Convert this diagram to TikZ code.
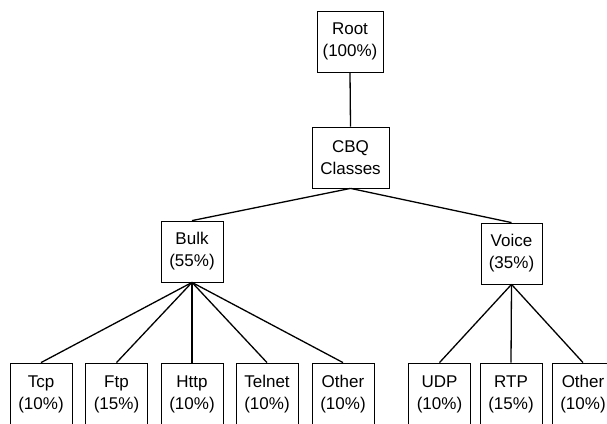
\documentclass[tikz,border=0pt]{standalone}
\usepackage{fontspec}
\setmainfont{Liberation Sans}
\begin{document}
\begin{tikzpicture}[x=1pt,y=1pt,
  box/.style={draw, line width=0.8pt, inner sep=0pt, align=center,
    font=\fontsize{17}{22}\selectfont},
  leaf/.style={box, minimum width=62pt, minimum height=62pt},
  link/.style={line width=1.3pt}]
\clip (0,0) rectangle (607,423);
\node[box, minimum width=66pt, minimum height=61pt] (root) at (350,381.5) {Root\\(100\%)};
\node[box, minimum width=77pt, minimum height=61pt] (cbq) at (350.5,265.5) {CBQ\\Classes};
\node[box, minimum width=62pt, minimum height=61pt] (bulk) at (192,171.5) {Bulk\\(55\%)};
\node[box, minimum width=61pt, minimum height=61pt] (voice) at (511.5,169.5) {Voice\\(35\%)};
\node[leaf] (tcp) at (41,29) {Tcp\\(10\%)};
\node[leaf] (ftp) at (116.5,29) {Ftp\\(15\%)};
\node[leaf] (http) at (192,29) {Http\\(10\%)};
\node[leaf] (telnet) at (267,29) {Telnet\\(10\%)};
\node[leaf] (other) at (343,29) {Other\\(10\%)};
\node[leaf] (udp) at (439.5,29) {UDP\\(10\%)};
\node[leaf] (rtp) at (511,29) {RTP\\(15\%)};
\node[leaf] (other2) at (583,29) {Other\\(10\%)};
\draw[link] (root.south) -- (cbq.north);
\draw[link] (cbq.south) -- (bulk.north);
\draw[link] (cbq.south) -- (voice.north);
\foreach \n in {tcp,ftp,http,telnet,other}
  \draw[link] (bulk.south) -- (\n.north);
\foreach \n in {udp,rtp,other2}
  \draw[link] (voice.south) -- (\n.north);
\end{tikzpicture}
\end{document}
